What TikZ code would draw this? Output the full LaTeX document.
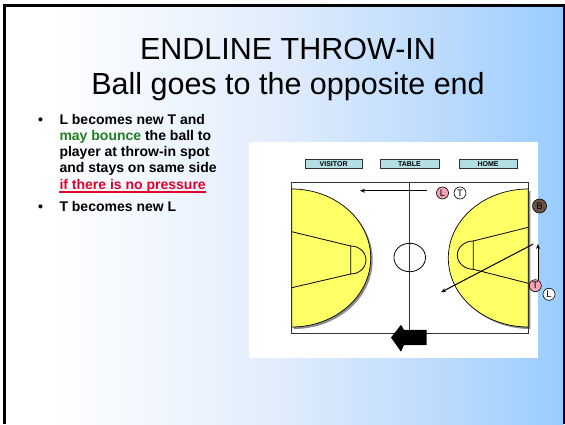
\documentclass[tikz,border=0pt]{standalone}
\usepackage{fontspec}
\setmainfont{Liberation Sans}
\usetikzlibrary{arrows.meta}
\definecolor{bgA}{HTML}{FFFFFF}
\definecolor{bgB}{HTML}{E0ECFC}
\definecolor{bgC}{HTML}{B9DAFD}
\definecolor{bgD}{HTML}{99CCFF}
\definecolor{grn}{HTML}{1F7F1F}
\definecolor{rd}{HTML}{E3002B}
\definecolor{pnk}{HTML}{F4A3B5}
\definecolor{brn}{HTML}{6B5344}
\definecolor{yel}{HTML}{FFFF66}
\definecolor{hdrfill}{HTML}{B3DFE3}
\definecolor{lineg}{HTML}{333333}
\pgfdeclarehorizontalshading{slidebg}{100bp}{color(0bp)=(bgA); color(29bp)=(bgA); color(50bp)=(bgB); color(65bp)=(bgC); color(75bp)=(bgD); color(100bp)=(bgD)}
\tikzset{
  btxt/.style={anchor=base west, inner sep=0pt, font=\fontsize{14}{16}\selectfont\bfseries},
  hdr/.style={draw=lineg, fill=hdrfill, line width=0.8pt, inner sep=0pt, minimum height=9.3pt, font=\fontsize{7}{8}\selectfont\bfseries},
  player/.style={circle, draw=black, line width=0.6pt, inner sep=0pt, minimum size=12pt, font=\fontsize{9.5}{10}\selectfont},
  court/.style={draw=lineg, line width=1pt},
  mv/.style={line width=1pt, -{Stealth[length=5pt,width=4pt]}},
  ttl/.style={anchor=base, inner sep=0pt, font=\fontsize{30.5}{36}\selectfont}
}
\begin{document}
\begin{tikzpicture}[x=1pt,y=1pt]
\useasboundingbox (0,0) rectangle (565,424);
\fill[white] (0,0) rectangle (565,424);
\shade[shading=slidebg] (4,0) rectangle (563.5,419);
\draw[line width=2.6pt] (4.5,0) -- (4.5,418.3) -- (563,418.3);
\draw[line width=2pt, color=black!85!blue] (563.8,419.5) -- (563.8,0);
% title
\node[ttl] (t1) at (288,364.5) {ENDLINE THROW-IN};
\node[ttl] (t2) at (288,329.6) {Ball goes to the opposite end};
% bullets
\node[anchor=base, inner sep=0pt, font=\fontsize{14}{16}\selectfont\bfseries] (d1) at (40.7,300) {•};
\node[btxt] (b1a) at (59.3,300) {L becomes new T and};
\node[btxt] (b1b) at (59.3,283.7) {\textcolor{grn}{may bounce} the ball to};
\node[btxt] (b1c) at (59.3,267.4) {player at throw-in spot};
\node[btxt] (b1d) at (59.3,251.1) {and stays on same side};
\node[btxt, text=rd] (b1e) at (59.3,234.8) {if there is no pressure};
\draw[rd, line width=2pt] ([yshift=-2.5pt]b1e.base west) -- ([yshift=-2.5pt]b1e.base east);
\node[anchor=base, inner sep=0pt, font=\fontsize{14}{16}\selectfont\bfseries] (d2) at (40.7,212.3) {•};
\node[btxt] (b2) at (59.3,212.3) {T becomes new L};
% panel
\fill[white] (249,66) rectangle (538,282);
% header boxes
\node[hdr, minimum width=57.3pt] (vis) at (333.65,260.35) {VISITOR};
\node[hdr, minimum width=59pt] (tab) at (409.5,260.35) {TABLE};
\node[hdr, minimum width=57.7pt] (home) at (488.15,260.35) {HOME};
% yellow areas with shadows
\fill[black!45] (293.7,233) arc[start angle=90, end angle=-90, x radius=79, y radius=69] -- cycle;
\fill[black!45] (530.3,233) arc[start angle=90, end angle=270, x radius=80, y radius=69] -- cycle;
\filldraw[fill=yel, draw=black, line width=0.7pt] (291.7,235) arc[start angle=90, end angle=-90, x radius=79, y radius=69] -- cycle;
\filldraw[fill=yel, draw=black, line width=0.7pt] (528.3,235) arc[start angle=90, end angle=270, x radius=80, y radius=69] -- cycle;
% keys
\draw[black, line width=0.8pt] (291.7,192.3) -- (350.7,178) -- (350.7,150) -- (291.7,136.3);
\draw[black, line width=0.8pt] (350.7,178) arc[start angle=90, end angle=-90, x radius=15.3, y radius=14];
\draw[black, line width=0.8pt] (528.3,196.7) -- (473.3,183) -- (473.3,154.7) -- (528.3,140.7);
\draw[black, line width=0.8pt] (473.3,183) arc[start angle=90, end angle=270, x radius=16, y radius=14.15];
% court
\draw[court] (291.7,90.5) rectangle (528.3,242);
\draw[court] (409.7,242) -- (409.7,90.5);
\draw[black, line width=0.8pt] (409.7,166.5) ellipse [x radius=15.8, y radius=14.2];
% block arrow
\fill[black] (391,86.5) -- (401,99.2) -- (404,94.2) -- (426.7,94.2) -- (426.7,79) -- (404,79) -- (401,72.3) -- cycle;
% players
\node[player, fill=pnk] (L1) at (442.5,231) {L};
\node[player, fill=white] (T1) at (460,231) {T};
\node[player, fill=brn, minimum size=14pt] (B) at (539.5,218) {B};
\node[player, fill=pnk] (T2) at (535.3,138.3) {T};
\node[player, fill=white] (L2) at (549,129.7) {L};
% movement arrows
\coordinate (a1s) at (426.7,233.3);
\coordinate (a1e) at (360,233.3);
\coordinate (a2s) at (533.3,180);
\coordinate (a2e) at (441,131.7);
\coordinate (a3s) at (538,144.3);
\coordinate (a3e) at (538,180);
\draw[mv] (a1s) -- (a1e);
\draw[mv] (a2s) -- (a2e);
\draw[mv] (a3s) -- (a3e);
\end{tikzpicture}
\end{document}
